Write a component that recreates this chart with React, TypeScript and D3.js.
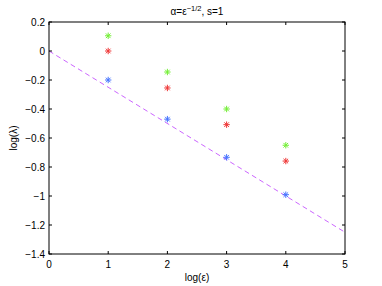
import { scaleLinear, line } from "d3";

const xTicks = [0, 1, 2, 3, 4, 5];
const yTicks = [-1.4, -1.2, -1, -0.8, -0.6, -0.4, -0.2, 0, 0.2];
const epsLog = [1, 2, 3, 4];
const greenVals = [0.105, -0.145, -0.4, -0.65];
const redVals = [0, -0.255, -0.508, -0.759];
const blueVals = [-0.2, -0.47, -0.733, -0.991];
const refLine = [
  { x: 0, y: 0 },
  { x: 5, y: -1.25 }
];

const series = [
  { name: "green", color: "#66ee22", values: greenVals },
  { name: "red", color: "#ee2222", values: redVals },
  { name: "blue", color: "#3366ff", values: blueVals }
];

function fmt(v: number) {
  const s = Number.isInteger(v) ? String(v) : String(Math.round(v * 10) / 10);
  return s.replace("-", "\u2212");
}

function Star({ x, y, color }: { x: number; y: number; color: string }) {
  const r = 3.2;
  const d = r * 0.72;
  return (
    <g stroke={color} strokeWidth={1} opacity={0.9}>
      <line x1={x - r} x2={x + r} y1={y} y2={y} />
      <line x1={x} x2={x} y1={y - r} y2={y + r} />
      <line x1={x - d} x2={x + d} y1={y - d} y2={y + d} />
      <line x1={x - d} x2={x + d} y1={y + d} y2={y - d} />
    </g>
  );
}

export default function App() {
  const width = 382;
  const height = 286;
  const margin = { top: 22, right: 37, bottom: 32, left: 49 };
  const innerWidth = width - margin.left - margin.right;
  const innerHeight = height - margin.top - margin.bottom;
  const x = scaleLinear().domain([0, 5]).range([0, innerWidth]);
  const y = scaleLinear().domain([-1.4, 0.2]).range([innerHeight, 0]);
  const path = line<{ x: number; y: number }>()
    .x((d) => x(d.x))
    .y((d) => y(d.y));
  const font = "'Liberation Sans', Arial, sans-serif";
  const tick = 3;

  return (
    <svg
      width={width}
      height={height}
      style={{ position: "absolute", left: 0, top: 0, background: "#fff" }}
      fontFamily={font}
    >
      <text x={margin.left + innerWidth / 2} y={15} textAnchor="middle" fontSize={10} fill="#000">
        α=ε<tspan dy={-4} fontSize={7.5}>−1/2</tspan>
        <tspan dy={4}>, s=1</tspan>
      </text>
      <g transform={`translate(${margin.left}, ${margin.top})`}>
        <path
          d={path(refLine) ?? ""}
          fill="none"
          stroke="#cc66ff"
          strokeWidth={1}
          strokeDasharray="5 3.5"
        />
        {series.map((s) =>
          s.values.map((v, i) => (
            <Star key={s.name + i} x={x(epsLog[i])} y={y(v)} color={s.color} />
          ))
        )}
        <rect x={0} y={0} width={innerWidth} height={innerHeight} fill="none" stroke="#000" strokeWidth={1} />
        {xTicks.map((t) => (
          <g key={"x" + t}>
            <line x1={x(t)} x2={x(t)} y1={innerHeight} y2={innerHeight - tick} stroke="#000" />
            <line x1={x(t)} x2={x(t)} y1={0} y2={tick} stroke="#000" />
            <text x={x(t)} y={innerHeight + 14} textAnchor="middle" fontSize={10} fill="#000">
              {fmt(t)}
            </text>
          </g>
        ))}
        {yTicks.map((t) => (
          <g key={"y" + t}>
            <line x1={0} x2={tick} y1={y(t)} y2={y(t)} stroke="#000" />
            <line x1={innerWidth} x2={innerWidth - tick} y1={y(t)} y2={y(t)} stroke="#000" />
            <text x={-4} y={y(t) + 3.5} textAnchor="end" fontSize={10} fill="#000">
              {fmt(t)}
            </text>
          </g>
        ))}
        <text x={innerWidth / 2} y={innerHeight + 27} textAnchor="middle" fontSize={10} fill="#000">
          log(ε)
        </text>
        <text
          transform={`translate(${-32}, ${innerHeight / 2}) rotate(-90)`}
          textAnchor="middle"
          fontSize={10}
          fill="#000"
        >
          log(λ)
        </text>
      </g>
    </svg>
  );
}
